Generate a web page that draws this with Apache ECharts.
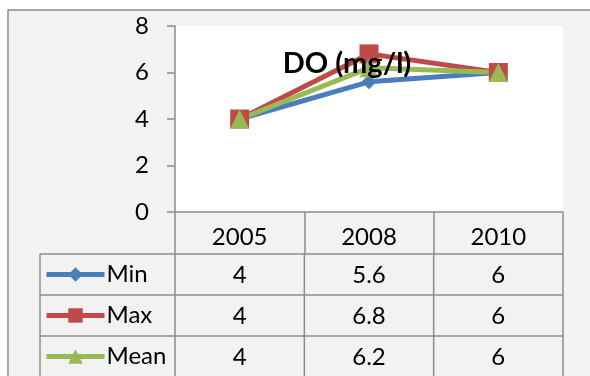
<!DOCTYPE html>
<html>
  <head>
    <meta charset="utf-8" />
    <title>DO (mg/l)</title>
    <script src="https://cdn.jsdelivr.net/npm/echarts@6/dist/echarts.min.js"></script>
  </head>
  <body style="margin:0;background:#fff;">
    <div id="main" style="width: 590px;height:376px;"></div>
    <script type="text/javascript">
      // data
      var years = ['2005', '2008', '2010'];
      var seriesNames = ['Min', 'Max', 'Mean'];
      var minVals = [4, 5.6, 6];
      var maxVals = [4, 6.8, 6];
      var meanVals = [4, 6.2, 6];
      var yTicks = [0, 2, 4, 6, 8];

      var allVals = [minVals, maxVals, meanVals];
      var colors = ['#4a7ebb', '#be4b48', '#98b954'];
      var symbols = ['diamond', 'rect', 'triangle'];
      var symbolSizes = [15, 19, 19];
      var font = 'Lato, "Open Sans", sans-serif';
      var fs = 24;
      var gridColor = '#8c8c8c';

      var tableLeft = 40;
      var rowTop = 254;
      var rowH = 41;
      var bottom = 380;

      var myChart = echarts.init(document.getElementById('main'));

      var series = seriesNames.map(function (name, i) {
        return {
          name: name,
          type: 'line',
          data: allVals[i],
          symbol: symbols[i],
          symbolSize: symbolSizes[i],
          showSymbol: true,
          color: colors[i],
          lineStyle: { width: 5, color: colors[i] },
          itemStyle: { color: colors[i] },
          emphasis: { disabled: true }
        };
      });

      // one legend per table row
      var legends = seriesNames.map(function (name, i) {
        return {
          orient: 'horizontal',
          left: tableLeft + 4,
          top: rowTop + i * rowH + rowH / 2 - 12,
          padding: 0,
          itemWidth: 58,
          itemHeight: 18,
          itemGap: 0,
          data: [name],
          selectedMode: false,
          lineStyle: { width: 5 },
          textStyle: { fontFamily: font, fontSize: fs, color: '#000', padding: [0, 0, 0, -3] }
        };
      });

      var option = {
        animation: false,
        backgroundColor: '#fff',
        textStyle: { fontFamily: font },
        title: {
          text: 'DO (mg/l)',
          left: 342,
          textAlign: 'center',
          top: 44,
          textStyle: { fontFamily: font, fontSize: 29, fontWeight: 'bold', color: '#000' }
        },
        legend: legends,
        grid: {
          left: 175,
          top: 26,
          right: 27,
          bottom: 164,
          show: true,
          backgroundColor: '#fff',
          borderWidth: 0
        },
        xAxis: {
          type: 'category',
          data: years,
          boundaryGap: true,
          axisLine: { lineStyle: { color: gridColor, width: 1.5 } },
          axisTick: { show: true, interval: 0, length: 42, lineStyle: { color: gridColor, width: 1.5 } },
          axisLabel: { fontFamily: font, fontSize: fs, color: '#000', margin: 13 }
        },
        yAxis: {
          type: 'value',
          min: yTicks[0],
          max: yTicks[yTicks.length - 1],
          interval: 2,
          splitLine: { show: false },
          axisLine: { show: true, lineStyle: { color: gridColor, width: 1.5 } },
          axisTick: { show: true, length: 8, lineStyle: { color: gridColor, width: 1.5 } },
          axisLabel: { fontFamily: font, fontSize: fs, color: '#000', margin: 26 }
        },
        series: series
      };

      myChart.setOption(option);

      // data table below the plot, columns taken from the category axis
      var centers = years.map(function (y, i) {
        return myChart.convertToPixel({ xAxisIndex: 0 }, i);
      });
      var band = centers[1] - centers[0];
      var colEdges = [centers[0] - band / 2].concat(centers.map(function (c) { return c + band / 2; }));

      var g = [];
      // outer chart frame
      g.push({
        type: 'rect', z: -10, silent: true,
        shape: { x: 8, y: 10, width: 600, height: 400 },
        style: { fill: '#f2f2f2', stroke: '#8c8c8c', lineWidth: 1.5 }
      });
      // horizontal lines
      for (var r = 0; r < seriesNames.length; r++) {
        var yy = rowTop + r * rowH;
        g.push({
          type: 'line', silent: true,
          shape: { x1: tableLeft, y1: yy, x2: colEdges[colEdges.length - 1], y2: yy },
          style: { stroke: gridColor, lineWidth: 1.5 }
        });
      }
      // vertical lines
      [tableLeft].concat(colEdges).forEach(function (x) {
        g.push({
          type: 'line', silent: true,
          shape: { x1: x, y1: rowTop, x2: x, y2: bottom },
          style: { stroke: gridColor, lineWidth: 1.5 }
        });
      });
      // cell values
      allVals.forEach(function (vals, r) {
        vals.forEach(function (v, c) {
          g.push({
            type: 'text', silent: true,
            x: centers[c], y: rowTop + r * rowH + rowH / 2 + 1,
            style: {
              text: String(v), fill: '#000', font: fs + 'px ' + font,
              align: 'center', verticalAlign: 'middle'
            }
          });
        });
      });

      myChart.setOption({ graphic: g });
    </script>
  </body>
</html>
